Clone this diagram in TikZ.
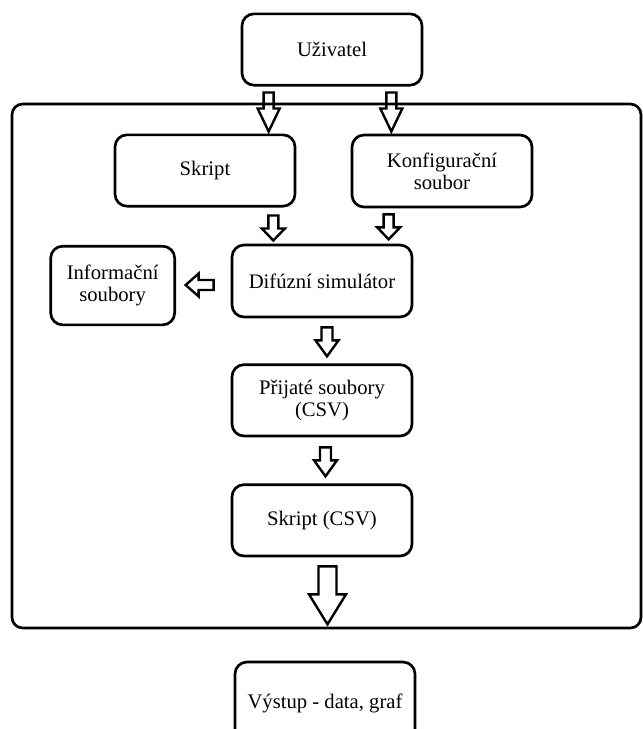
\documentclass[tikz,border=0pt]{standalone}
\usepackage{fontspec}
\setmainfont{Liberation Serif}
\usetikzlibrary{positioning,calc}

\tikzset{
  box/.style={draw, line width=2pt, rounded corners=9pt, align=center,
    minimum width=135pt, minimum height=53.5pt, inner sep=2pt,
    font=\fontsize{15.5}{16.5}\selectfont},
  frame/.style={draw, line width=2pt, rounded corners=8pt},
  arrowline/.style={draw, line width=1.8pt, line join=miter},
  % len / head length / half shaft / half head
  pics/fatarrow/.style n args={4}{code={
    \path[arrowline] (-#3,0) -- (#3,0) -- (#3,#1-#2) -- (#4,#1-#2) -- (0,#1)
      -- (-#4,#1-#2) -- (-#3,#1-#2) -- cycle;
  }},
}

\begin{document}
\begin{tikzpicture}[x=0.75pt, y=-0.75pt]
  \useasboundingbox (0,0) rectangle (643,729);
  \clip (0,0) rectangle (643,729);

  \node[box] (user) at (332,49.5) {Uživatel};
  \node[box] (skript) at (205,170.5) {Skript};
  \node[box, minimum height=54pt] (konf) at (442,171) {Konfigurační\\soubor};
  \node[box, minimum height=54pt] (sim) at (322,281) {Difúzní simulátor};
  \node[box, left=41pt of sim, yshift=-3.4pt, minimum width=93pt, minimum height=59pt] (info) {Informační\\soubory};
  \node[box, below=33.75pt of sim] (prijate) {Přijaté soubory\\(CSV)};
  \node[box, below=34.5pt of prijate] (skriptcsv) {Skript (CSV)};
  \node[box, minimum height=61.5pt] (vystup) at (325,703) {Výstup - data, graf};

  % vnejsi ramecek
  \path[frame] (12,104) rectangle (641,628);

  % sipky
  \pic at ($(user.south west)+(28,6)$) {fatarrow={39}{23}{5}{11}};
  \pic at ($(user.south east)+(-32,6)$) {fatarrow={39}{23}{5}{11}};
  \pic at ($(skript.south east)+(-23,8)$) {fatarrow={25}{12}{5}{11.5}};
  \pic at ($(konf.south west)+(38,6)$) {fatarrow={25}{12}{5}{11.5}};
  \pic[rotate=-90] at ($(sim.west)+(-17,4)$) {fatarrow={28}{13}{5}{11.5}};
  \pic at ($(sim.south)+(5,9)$) {fatarrow={29}{16}{5.5}{11.5}};
  \pic at ($(prijate.south)+(3.5,10)$) {fatarrow={29}{16}{5.5}{11.5}};
  \pic at ($(skriptcsv.south)+(5.5,9)$) {fatarrow={58}{30}{9}{18.5}};
\end{tikzpicture}
\end{document}
